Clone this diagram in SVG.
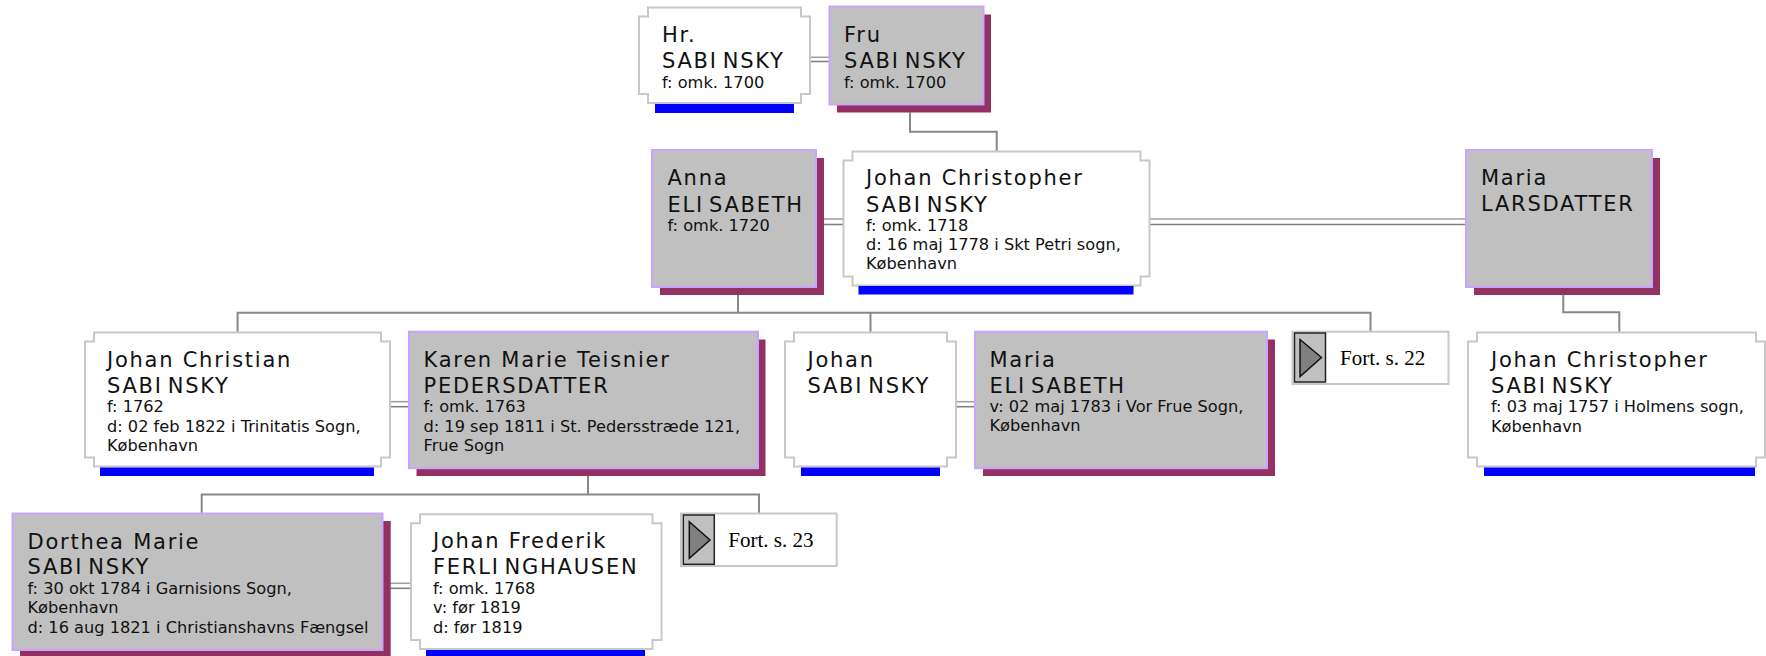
<svg xmlns="http://www.w3.org/2000/svg" width="1766" height="656" viewBox="0 0 1766 656">
<style>
.nb{fill:#fff;stroke:#c8c8c8;stroke-width:2}
.gb{fill:#c0c0c0;stroke:#c9a3ff;stroke-width:2}
.sh{fill:#933162}
.bb{fill:#0000ff}
.fb{fill:#fff;stroke:#c8c8c8;stroke-width:2}
.ic{fill:#c0c0c0;stroke:#222;stroke-width:1.5}
.tr{fill:#808080;stroke:#111;stroke-width:1.5}
.n{font-family:"DejaVu Sans",Verdana,sans-serif;font-size:21px;letter-spacing:1.75px;fill:#111}
.s{font-family:"DejaVu Sans",Verdana,sans-serif;font-size:16.2px;letter-spacing:0;fill:#111}
.f{font-family:"Liberation Serif","Times New Roman",serif;font-size:21px;fill:#000}
.c{fill:none;stroke:#888;stroke-width:2}
.d1{stroke:#a0a0a0;stroke-width:1.6}
.d2{stroke:#808080;stroke-width:1.6}
</style>
<rect width="1766" height="656" fill="#fff"/>

<g id="connectors">
<path class="c" d="M910,112.5 V131.7 H996.7 V151.5"/>
<path class="c" d="M738,295 V312.7"/>
<path class="c" d="M237.6,332.5 V312.7 H1370.5 V331.7"/>
<path class="c" d="M870.5,312.7 V332.5"/>
<path class="c" d="M1563.3,295 V312.3 H1619.3 V332.3"/>
<path class="c" d="M588,476 V494.5"/>
<path class="c" d="M201.7,513.5 V494.5 H759 V513.5"/>
<line class="d1" x1="810" y1="57.3" x2="829.5" y2="57.3"/><line class="d2" x1="810" y1="61.5" x2="829.5" y2="61.5"/>
<line class="d1" x1="816" y1="219" x2="843.5" y2="219"/><line class="d2" x1="816" y1="224.5" x2="843.5" y2="224.5"/>
<line class="d1" x1="1149.5" y1="219" x2="1466" y2="219"/><line class="d2" x1="1149.5" y1="224.5" x2="1466" y2="224.5"/>
<line class="d1" x1="390" y1="401.7" x2="409" y2="401.7"/><line class="d2" x1="390" y1="406.7" x2="409" y2="406.7"/>
<line class="d1" x1="956" y1="401.7" x2="975" y2="401.7"/><line class="d2" x1="956" y1="406.7" x2="975" y2="406.7"/>
<line class="d1" x1="382.5" y1="583.3" x2="411" y2="583.3"/><line class="d2" x1="382.5" y1="588.3" x2="411" y2="588.3"/>
</g>

<g id="hr-sabinsky">
<path class="nb" d="M648,7.5 H801 V16.5 H810 V94 H801 V103 H648 V94 H639 V16.5 H648 Z"/>
<rect class="bb" x="655" y="104" width="139" height="9"/>
<text class="n" x="662" y="42">Hr.</text>
<text class="n" x="662" y="68">SABI<tspan dx="5">NSKY</tspan></text>
<text class="s" x="662" y="88">f: omk. 1700</text>
</g>

<g id="fru-sabinsky">
<rect class="sh" x="837" y="14.5" width="154" height="98"/>
<rect class="gb" x="829.5" y="6.5" width="154" height="98"/>
<text class="n" x="844" y="42">Fru</text>
<text class="n" x="844" y="68">SABI<tspan dx="5">NSKY</tspan></text>
<text class="s" x="844" y="88">f: omk. 1700</text>
</g>

<g id="anna-elisabeth">
<rect class="sh" x="660" y="158" width="164" height="137"/>
<rect class="gb" x="652" y="150" width="164" height="137"/>
<text class="n" x="667.5" y="185">Anna</text>
<text class="n" x="667.5" y="211.5">ELI<tspan dx="5">SABETH</tspan></text>
<text class="s" x="667.5" y="231">f: omk. 1720</text>
</g>

<g id="johan-christopher-1718">
<path class="nb" d="M852.5,151.5 H1140.5 V160.5 H1149.5 V276.5 H1140.5 V285.5 H852.5 V276.5 H843.5 V160.5 H852.5 Z"/>
<rect class="bb" x="858.5" y="286" width="275" height="8.5"/>
<text class="n" x="866" y="185">Johan Christopher</text>
<text class="n" x="866" y="211.5">SABI<tspan dx="5">NSKY</tspan></text>
<text class="s" x="866" y="231">f: omk. 1718</text>
<text class="s" x="866" y="250">d: 16 maj 1778 i Skt Petri sogn,</text>
<text class="s" x="866" y="269">København</text>
</g>

<g id="maria-larsdatter">
<rect class="sh" x="1474" y="158" width="186" height="137"/>
<rect class="gb" x="1466" y="150" width="186" height="137"/>
<text class="n" x="1481" y="184.5">Maria</text>
<text class="n" x="1481" y="211">LARSDATTER</text>
</g>

<g id="johan-christian">
<path class="nb" d="M94,332.5 H381 V341.5 H390 V457.5 H381 V466.5 H94 V457.5 H85 V341.5 H94 Z"/>
<rect class="bb" x="100" y="467.5" width="274" height="8.5"/>
<text class="n" x="107" y="366.7">Johan Christian</text>
<text class="n" x="107" y="392.7">SABI<tspan dx="5">NSKY</tspan></text>
<text class="s" x="107" y="412.3">f: 1762</text>
<text class="s" x="107" y="431.7">d: 02 feb 1822 i Trinitatis Sogn,</text>
<text class="s" x="107" y="451">København</text>
</g>

<g id="karen-marie">
<rect class="sh" x="416.5" y="339.5" width="349" height="136.5"/>
<rect class="gb" x="409" y="331.7" width="349" height="136.5"/>
<text class="n" x="423.5" y="366.7">Karen Marie Teisnier</text>
<text class="n" x="423.5" y="392.7">PEDERSDATTER</text>
<text class="s" x="423.5" y="412.3">f: omk. 1763</text>
<text class="s" x="423.5" y="431.7">d: 19 sep 1811 i St. Pedersstræde 121,</text>
<text class="s" x="423.5" y="451">Frue Sogn</text>
</g>

<g id="johan-sabinsky">
<path class="nb" d="M794,332.5 H947 V341.5 H956 V457.5 H947 V466.5 H794 V457.5 H785 V341.5 H794 Z"/>
<rect class="bb" x="801" y="467.5" width="139" height="8.5"/>
<text class="n" x="807.5" y="366.7">Johan</text>
<text class="n" x="807.5" y="392.7">SABI<tspan dx="5">NSKY</tspan></text>
</g>

<g id="maria-elisabeth">
<rect class="sh" x="983" y="339.5" width="292" height="136.5"/>
<rect class="gb" x="975" y="331.7" width="292" height="136.5"/>
<text class="n" x="989.5" y="366.7">Maria</text>
<text class="n" x="989.5" y="392.7">ELI<tspan dx="5">SABETH</tspan></text>
<text class="s" x="989.5" y="412">v: 02 maj 1783 i Vor Frue Sogn,</text>
<text class="s" x="989.5" y="431">København</text>
</g>

<g id="fort-22">
<rect class="fb" x="1292.5" y="331.7" width="156" height="52.3"/>
<rect class="ic" x="1294.5" y="333" width="31" height="49"/>
<polygon class="tr" points="1300,339.5 1321.5,357.5 1300,376.5"/>
<text class="f" x="1340" y="365">Fort. s. 22</text>
</g>

<g id="johan-christopher-1757">
<path class="nb" d="M1477,332.5 H1756 V341.5 H1765 V457.5 H1756 V466.5 H1477 V457.5 H1468 V341.5 H1477 Z"/>
<rect class="bb" x="1484" y="467.5" width="271" height="8.5"/>
<text class="n" x="1491" y="367">Johan Christopher</text>
<text class="n" x="1491" y="392.7">SABI<tspan dx="5">NSKY</tspan></text>
<text class="s" x="1491" y="412.3">f: 03 maj 1757 i Holmens sogn,</text>
<text class="s" x="1491" y="431.7">København</text>
</g>

<g id="dorthea-marie">
<rect class="sh" x="20" y="521" width="370.7" height="137"/>
<rect class="gb" x="12.5" y="513.5" width="370" height="136.5"/>
<text class="n" x="27.5" y="549">Dorthea Marie</text>
<text class="n" x="27.5" y="574.3">SABI<tspan dx="5">NSKY</tspan></text>
<text class="s" x="27.5" y="594">f: 30 okt 1784 i Garnisions Sogn,</text>
<text class="s" x="27.5" y="613.3">København</text>
<text class="s" x="27.5" y="632.7">d: 16 aug 1821 i Christianshavns Fængsel</text>
</g>

<g id="johan-frederik">
<path class="nb" d="M420,514.3 H652.5 V523.3 H661.5 V640 H652.5 V649 H420 V640 H411 V523.3 H420 Z"/>
<rect class="bb" x="426" y="650" width="219" height="8"/>
<text class="n" x="433" y="548.3">Johan Frederik</text>
<text class="n" x="433" y="574.3">FERLI<tspan dx="5">NGHAUSEN</tspan></text>
<text class="s" x="433" y="594.3">f: omk. 1768</text>
<text class="s" x="433" y="613.3">v: før 1819</text>
<text class="s" x="433" y="632.5">d: før 1819</text>
</g>

<g id="fort-23">
<rect class="fb" x="681" y="513.5" width="155.7" height="52.5"/>
<rect class="ic" x="683.3" y="515" width="31" height="49.3"/>
<polygon class="tr" points="689.3,521.7 710,540 689.3,558.3"/>
<text class="f" x="728.3" y="546.7">Fort. s. 23</text>
</g>
</svg>
